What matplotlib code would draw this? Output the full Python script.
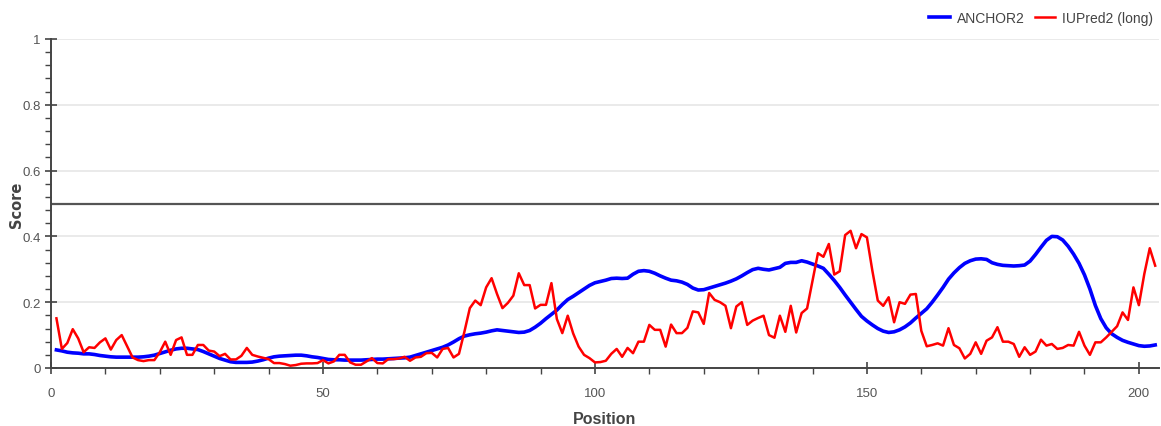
import numpy as np
import matplotlib
matplotlib.use("Agg")
import matplotlib.pyplot as plt
from matplotlib.ticker import MultipleLocator


# =========================
# DATA
# =========================

iupred_long = [
    0.151, 0.058, 0.076, 0.118, 0.090, 0.048, 0.063, 0.061, 0.078, 0.090,
    0.056, 0.085, 0.100, 0.066, 0.032, 0.024, 0.021, 0.024, 0.024, 0.048,
    0.080, 0.040, 0.085, 0.093, 0.040, 0.040, 0.070, 0.070, 0.053, 0.050,
    0.036, 0.043, 0.026, 0.026, 0.037, 0.061, 0.040, 0.035, 0.031, 0.027,
    0.015, 0.015, 0.012, 0.007, 0.009, 0.013, 0.014, 0.014, 0.015, 0.024,
    0.014, 0.020, 0.040, 0.040, 0.017, 0.010, 0.010, 0.020, 0.030, 0.015,
    0.014, 0.027, 0.027, 0.029, 0.034, 0.022, 0.032, 0.034, 0.045, 0.046,
    0.032, 0.058, 0.061, 0.032, 0.043, 0.110, 0.182, 0.205, 0.191, 0.245,
    0.273, 0.225, 0.182, 0.198, 0.220, 0.288, 0.252, 0.252, 0.181, 0.192,
    0.192, 0.258, 0.149, 0.106, 0.159, 0.105, 0.065, 0.040, 0.030, 0.017,
    0.018, 0.022, 0.043, 0.058, 0.034, 0.061, 0.045, 0.080, 0.080, 0.131,
    0.116, 0.116, 0.065, 0.132, 0.106, 0.106, 0.122, 0.172, 0.169, 0.134,
    0.228, 0.207, 0.200, 0.189, 0.121, 0.187, 0.200, 0.131, 0.144, 0.152,
    0.159, 0.100, 0.092, 0.159, 0.110, 0.189, 0.108, 0.167, 0.181, 0.265,
    0.349, 0.338, 0.377, 0.284, 0.294, 0.404, 0.417, 0.364, 0.407, 0.397,
    0.296, 0.205, 0.189, 0.215, 0.139, 0.200, 0.195, 0.223, 0.225, 0.113,
    0.066, 0.070, 0.075, 0.068, 0.121, 0.070, 0.060, 0.029, 0.043, 0.078,
    0.043, 0.083, 0.093, 0.124, 0.080, 0.080, 0.073, 0.034, 0.063, 0.040,
    0.050, 0.086, 0.068, 0.073, 0.058, 0.061, 0.070, 0.068, 0.110, 0.068,
    0.040, 0.078, 0.078, 0.093, 0.110, 0.127, 0.169, 0.146, 0.245, 0.191,
    0.286, 0.364, 0.311,
]

anchor2 = [
    0.055, 0.052, 0.048, 0.046, 0.045, 0.043, 0.043, 0.041, 0.038, 0.036,
    0.034, 0.033, 0.033, 0.033, 0.033, 0.033, 0.034, 0.036, 0.039, 0.044,
    0.049, 0.054, 0.058, 0.060, 0.060, 0.058, 0.056, 0.050, 0.043, 0.036,
    0.029, 0.024, 0.019, 0.017, 0.017, 0.017, 0.018, 0.021, 0.025, 0.030,
    0.034, 0.036, 0.037, 0.038, 0.039, 0.039, 0.037, 0.034, 0.032, 0.029,
    0.026, 0.025, 0.025, 0.024, 0.024, 0.024, 0.024, 0.025, 0.026, 0.027,
    0.027, 0.028, 0.029, 0.030, 0.031, 0.033, 0.038, 0.043, 0.048, 0.053,
    0.058, 0.063, 0.070, 0.079, 0.089, 0.097, 0.101, 0.104, 0.106, 0.109,
    0.113, 0.116, 0.114, 0.112, 0.110, 0.108, 0.109, 0.114, 0.124, 0.136,
    0.150, 0.163, 0.176, 0.193, 0.208, 0.218, 0.229, 0.240, 0.251, 0.259,
    0.263, 0.267, 0.272, 0.273, 0.272, 0.273, 0.285, 0.294, 0.296, 0.294,
    0.288, 0.280, 0.273, 0.267, 0.265, 0.261, 0.254, 0.243, 0.237, 0.238,
    0.243, 0.248, 0.253, 0.258, 0.264, 0.271, 0.280, 0.290, 0.299, 0.303,
    0.300, 0.298, 0.302, 0.306, 0.318, 0.321, 0.321, 0.326, 0.322, 0.316,
    0.310, 0.303, 0.285, 0.266, 0.245, 0.222, 0.200, 0.178, 0.157, 0.143,
    0.131, 0.120, 0.112, 0.108, 0.110, 0.116, 0.125, 0.137, 0.152, 0.166,
    0.180, 0.200, 0.222, 0.245, 0.270, 0.289, 0.305, 0.318, 0.326, 0.331,
    0.332, 0.330, 0.320, 0.315, 0.312, 0.311, 0.310, 0.311, 0.313, 0.325,
    0.345, 0.367, 0.388, 0.400, 0.399, 0.389, 0.370, 0.346, 0.318, 0.283,
    0.240, 0.190, 0.150, 0.122, 0.104, 0.093, 0.084, 0.078, 0.073, 0.068,
    0.066, 0.067, 0.070,
]

positions = np.arange(1, len(anchor2) + 1)

threshold = 0.5
x_ticks = [0, 50, 100, 150, 200]
y_ticks = [0, 0.2, 0.4, 0.6, 0.8, 1.0]
y_tick_labels = ["0", "0.2", "0.4", "0.6", "0.8", "1"]


# =========================
# FIGURE
# =========================

plt.rcParams["font.family"] = ["Liberation Sans", "DejaVu Sans"]

fig = plt.figure(figsize=(11.61, 4.27), dpi=100)
ax = fig.add_axes([51 / 1161, 58 / 427, 1108 / 1161, 329 / 427])

ax.plot(positions, anchor2, color="#0000ff", linewidth=2.6, label="ANCHOR2", zorder=3)
ax.plot(positions, iupred_long, color="#ff0000", linewidth=1.8, label="IUPred2 (long)", zorder=4)

ax.axhline(threshold, color="#555555", linewidth=1.6, zorder=2)

ax.set_xlim(0, 203.7)
ax.set_ylim(0, 1)

ax.set_xticks(x_ticks)
ax.set_yticks(y_ticks)
ax.set_yticklabels(y_tick_labels)
ax.xaxis.set_minor_locator(MultipleLocator(10))
ax.yaxis.set_minor_locator(MultipleLocator(0.04))

ax.grid(axis="y", which="major", color="#e6e6e6", linewidth=1.2, zorder=0)

for side in ["top", "right"]:
    ax.spines[side].set_visible(False)
for side in ["left", "bottom"]:
    ax.spines[side].set_color("#444444")
    ax.spines[side].set_linewidth(1.4)

ax.tick_params(axis="both", which="major", direction="inout", length=8,
               width=1.2, color="#444444", labelcolor="#555555", labelsize=9.5)
ax.tick_params(axis="both", which="minor", direction="out", length=4,
               width=1.0, color="#444444")
ax.tick_params(axis="x", which="major", pad=10)

ax.set_xlabel("Position", fontsize=11.5, fontweight="bold", color="#444444", labelpad=8)
ax.set_ylabel("Score", fontsize=10.5, fontweight="bold", color="#444444",
              family="DejaVu Sans")
ax.yaxis.set_label_coords(-0.024, 0.5)

ax.legend(loc="lower right", bbox_to_anchor=(1.0, 1.025), ncol=2, frameon=False,
          fontsize=10, handlelength=1.5, handletextpad=0.5, columnspacing=0.7,
          labelcolor="#444444", borderaxespad=0.0)

plt.savefig("out.png", dpi=100)
plt.close()
